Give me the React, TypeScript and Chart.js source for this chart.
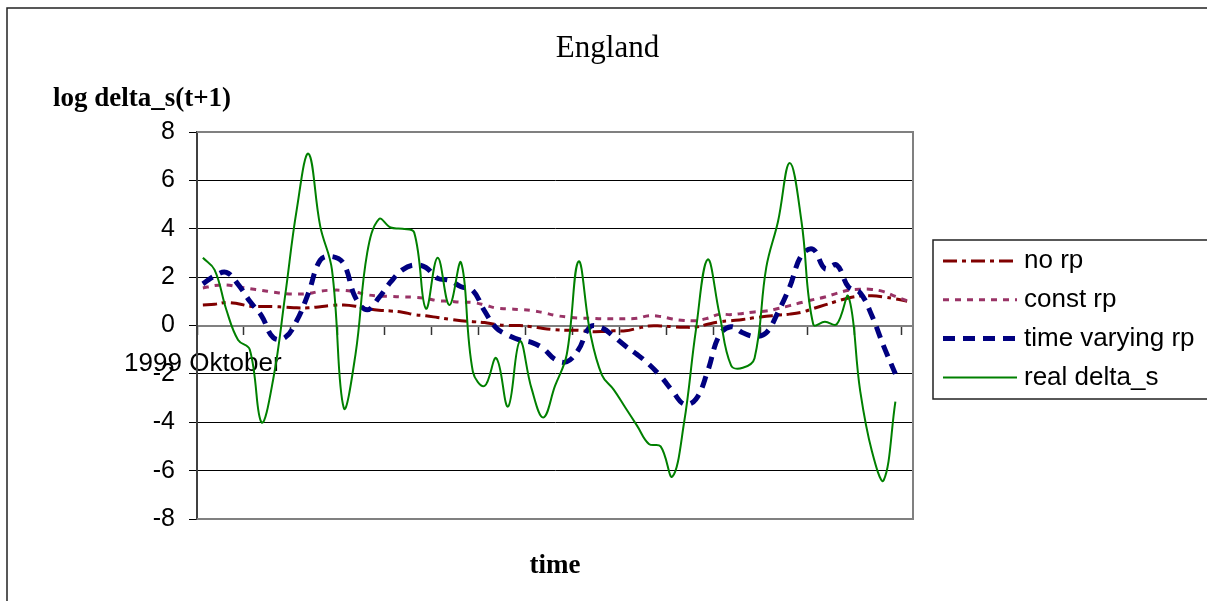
import { useEffect, useRef } from "react";
import { Chart, registerables } from "chart.js";

Chart.register(...registerables);

const monthNames = [
  "Januar", "Februar", "März", "April", "Mai", "Juni",
  "Juli", "August", "September", "Oktober", "November", "Dezember",
];
const categories: string[] = [];
for (let k = 0; k < 61; k++) {
  const m = (9 + k) % 12;
  const yr = 1999 + Math.floor((9 + k) / 12);
  categories.push(`${yr} ${monthNames[m]}`);
}

const chartTitle = "England";
const yAxisTitle = "log delta_s(t+1)";
const xAxisTitle = "time";
const seriesNames = ["no rp", "const rp", "time varying rp", "real delta_s"];

const noRp = [
  0.85, 0.88, 0.95, 0.9, 0.8, 0.79, 0.78, 0.76, 0.73, 0.73,
  0.78, 0.83, 0.85, 0.8, 0.7, 0.63, 0.6, 0.55, 0.45, 0.4,
  0.33, 0.26, 0.2, 0.16, 0.12, 0.04, 0.0, 0.0, -0.05, -0.12,
  -0.17, -0.2, -0.2, -0.25, -0.25, -0.22, -0.22, -0.12, -0.02, -0.02,
  -0.05, -0.07, -0.07, 0.05, 0.15, 0.2, 0.25, 0.32, 0.38, 0.43,
  0.47, 0.55, 0.7, 0.85, 1.0, 1.14, 1.22, 1.23, 1.18, 1.1,
  1.0,
];

const constRp = [
  1.55, 1.65, 1.68, 1.6, 1.52, 1.45, 1.38, 1.32, 1.3, 1.32,
  1.42, 1.46, 1.45, 1.38, 1.27, 1.22, 1.2, 1.18, 1.17, 1.12,
  1.03, 1.0, 0.96, 0.95, 0.85, 0.72, 0.69, 0.66, 0.62, 0.53,
  0.42, 0.35, 0.31, 0.3, 0.28, 0.28, 0.28, 0.3, 0.4, 0.37,
  0.27, 0.21, 0.2, 0.3, 0.46, 0.45, 0.5, 0.56, 0.6, 0.7,
  0.82, 0.95, 1.07, 1.18, 1.33, 1.46, 1.5, 1.49, 1.4, 1.2,
  1.02,
];

const timeVaryingRp = [
  1.72, 2.05, 2.2, 1.7, 1.0, 0.4, -0.5, -0.5, 0.2, 1.35,
  2.7, 2.85, 2.55, 1.15, 0.65, 1.15, 1.8, 2.3, 2.5, 2.4,
  1.95, 1.87, 1.6, 1.45, 0.6, -0.1, -0.4, -0.6, -0.7, -0.95,
  -1.4, -1.5, -1.0, -0.05, -0.1, -0.45, -0.85, -1.2, -1.6, -2.1,
  -2.7, -3.25, -3.05, -1.9, -0.4, -0.05, -0.3, -0.45, -0.3, 0.55,
  1.6, 2.9, 3.15, 2.35, 2.5, 1.6, 1.35, 0.4, -0.85, -2.0,
];

const realDeltaS = [
  2.8, 2.3, 0.65, -0.6, -1.0, -4.0, -2.2, 1.2, 4.8, 7.1,
  4.1, 2.3, -3.4, -1.2, 3.0, 4.4, 4.05, 4.0, 3.85, 0.7,
  2.8, 0.85, 2.6, -1.9, -2.5, -1.35, -3.35, -0.65, -2.6, -3.8,
  -2.5, -1.2, 2.65, -0.3, -2.05, -2.65, -3.4, -4.15, -4.9, -5.0,
  -6.25, -4.0, -0.2, 2.73, 0.5, -1.65, -1.75, -1.35, 2.4, 4.3,
  6.72, 4.3, 0.05, 0.15, 0.05, 1.2, -2.7, -5.2, -6.4, -3.15,
];

const SANS = "'Liberation Sans', Arial, sans-serif";
const SERIF = "'Liberation Serif', 'Times New Roman', serif";

const decorPlugin = {
  id: "decor",
  afterDraw(chart: any) {
    const ctx: CanvasRenderingContext2D = chart.ctx;
    const ca = chart.chartArea;
    ctx.save();
    // plot area border (top, right, bottom)
    ctx.strokeStyle = "#808080";
    ctx.lineWidth = 2;
    ctx.beginPath();
    ctx.moveTo(ca.left, ca.top);
    ctx.lineTo(ca.right, ca.top);
    ctx.lineTo(ca.right, ca.bottom);
    ctx.lineTo(ca.left, ca.bottom);
    ctx.stroke();

    // outer frame
    ctx.strokeStyle = "#222";
    ctx.lineWidth = 1.5;
    ctx.strokeRect(7, 8, 1400, 800);

    // titles
    ctx.fillStyle = "#000";
    ctx.textBaseline = "alphabetic";
    ctx.font = `31px ${SERIF}`;
    ctx.textAlign = "center";
    ctx.fillText(chartTitle, 607.5, 57);

    ctx.font = `bold 27px ${SERIF}`;
    ctx.textAlign = "left";
    ctx.fillText(yAxisTitle, 53, 106);

    ctx.textAlign = "center";
    ctx.fillText(xAxisTitle, (ca.left + ca.right) / 2, 573);

    // legend
    ctx.strokeStyle = "#222";
    ctx.lineWidth = 1.5;
    ctx.strokeRect(933, 240, 400, 159);
    ctx.font = `26px ${SANS}`;
    ctx.textAlign = "left";
    ctx.textBaseline = "middle";
    chart.data.datasets.forEach((ds: any, k: number) => {
      const y = 261 + 38.8 * k;
      ctx.save();
      ctx.strokeStyle = ds.borderColor;
      ctx.lineWidth = ds.borderWidth;
      ctx.setLineDash(ds.borderDash || []);
      ctx.beginPath();
      ctx.moveTo(943, y);
      ctx.lineTo(1017, y);
      ctx.stroke();
      ctx.restore();
      ctx.fillStyle = "#000";
      ctx.fillText(ds.label, 1024, y);
    });
    ctx.restore();
  },
};

export default function App() {
  const ref = useRef<HTMLCanvasElement>(null);

  useEffect(() => {
    if (!ref.current) return;
    const chart = new Chart(ref.current, {
      type: "line",
      data: {
        labels: categories,
        datasets: [
          {
            label: seriesNames[0],
            data: noRp,
            borderColor: "#800000",
            borderWidth: 3,
            borderDash: [14, 5, 4, 5],
            pointRadius: 0,
            tension: 0.4,
            fill: false,
            order: 3,
          },
          {
            label: seriesNames[1],
            data: constRp,
            borderColor: "#993366",
            borderWidth: 3,
            borderDash: [6, 6],
            pointRadius: 0,
            tension: 0.4,
            fill: false,
            order: 2,
          },
          {
            label: seriesNames[2],
            data: timeVaryingRp,
            borderColor: "#000080",
            borderWidth: 5,
            borderDash: [12, 8],
            pointRadius: 0,
            tension: 0.4,
            fill: false,
            order: 1,
          },
          {
            label: seriesNames[3],
            data: realDeltaS,
            borderColor: "#008000",
            borderWidth: 2,
            pointRadius: 0,
            tension: 0.4,
            fill: false,
            order: 0,
          },
        ],
      },
      options: {
        responsive: false,
        animation: false,
        devicePixelRatio: 1,
        layout: { padding: { left: 137, top: 132, right: 294, bottom: 82 } },
        plugins: {
          legend: { display: false },
          tooltip: { enabled: false },
          title: { display: false },
        },
        scales: {
          x: {
            type: "category",
            position: { y: 0 } as any,
            offset: true,
            grid: {
              offset: true,
              drawOnChartArea: false,
              drawTicks: true,
              tickLength: 8,
              tickWidth: 1.5,
              tickColor: (c: any) =>
                c.index !== undefined && c.index % 4 === 0 ? "#333" : "rgba(0,0,0,0)",
            },
            border: { display: true, color: "#808080", width: 2 },
            ticks: {
              autoSkip: false,
              maxRotation: 0,
              minRotation: 0,
              padding: 15,
              color: "#000",
              font: { family: SANS, size: 26 },
              callback: (_v: any, i: number) => (i === 0 ? categories[0] : ""),
            },
            afterFit: (s: any) => {
              s.paddingLeft = 0;
              s.paddingRight = 0;
              s.paddingTop = 0;
              s.paddingBottom = 0;
            },
          },
          y: {
            min: -8,
            max: 8,
            ticks: {
              stepSize: 2,
              padding: 14,
              color: "#000",
              font: { family: SANS, size: 25 },
            },
            grid: {
              color: (c: any) =>
                c.tick && (c.tick.value === 0 || Math.abs(c.tick.value) === 8)
                  ? "#808080"
                  : "#000",
              lineWidth: 1,
              tickLength: 8,
              tickColor: "#000",
              tickWidth: 1,
            },
            border: { color: "#404040", width: 2 },
            afterFit: (s: any) => {
              s.width = 60;
              s.paddingTop = 0;
              s.paddingBottom = 0;
            },
          },
        },
      },
      plugins: [decorPlugin],
    } as any);
    return () => chart.destroy();
  }, []);

  return (
    <div
      style={{
        position: "absolute",
        left: 0,
        top: 0,
        width: 1207,
        height: 601,
        background: "#fff",
        overflow: "hidden",
      }}
    >
      <canvas
        ref={ref}
        width={1207}
        height={601}
        style={{ display: "block", width: 1207, height: 601 }}
      />
    </div>
  );
}
